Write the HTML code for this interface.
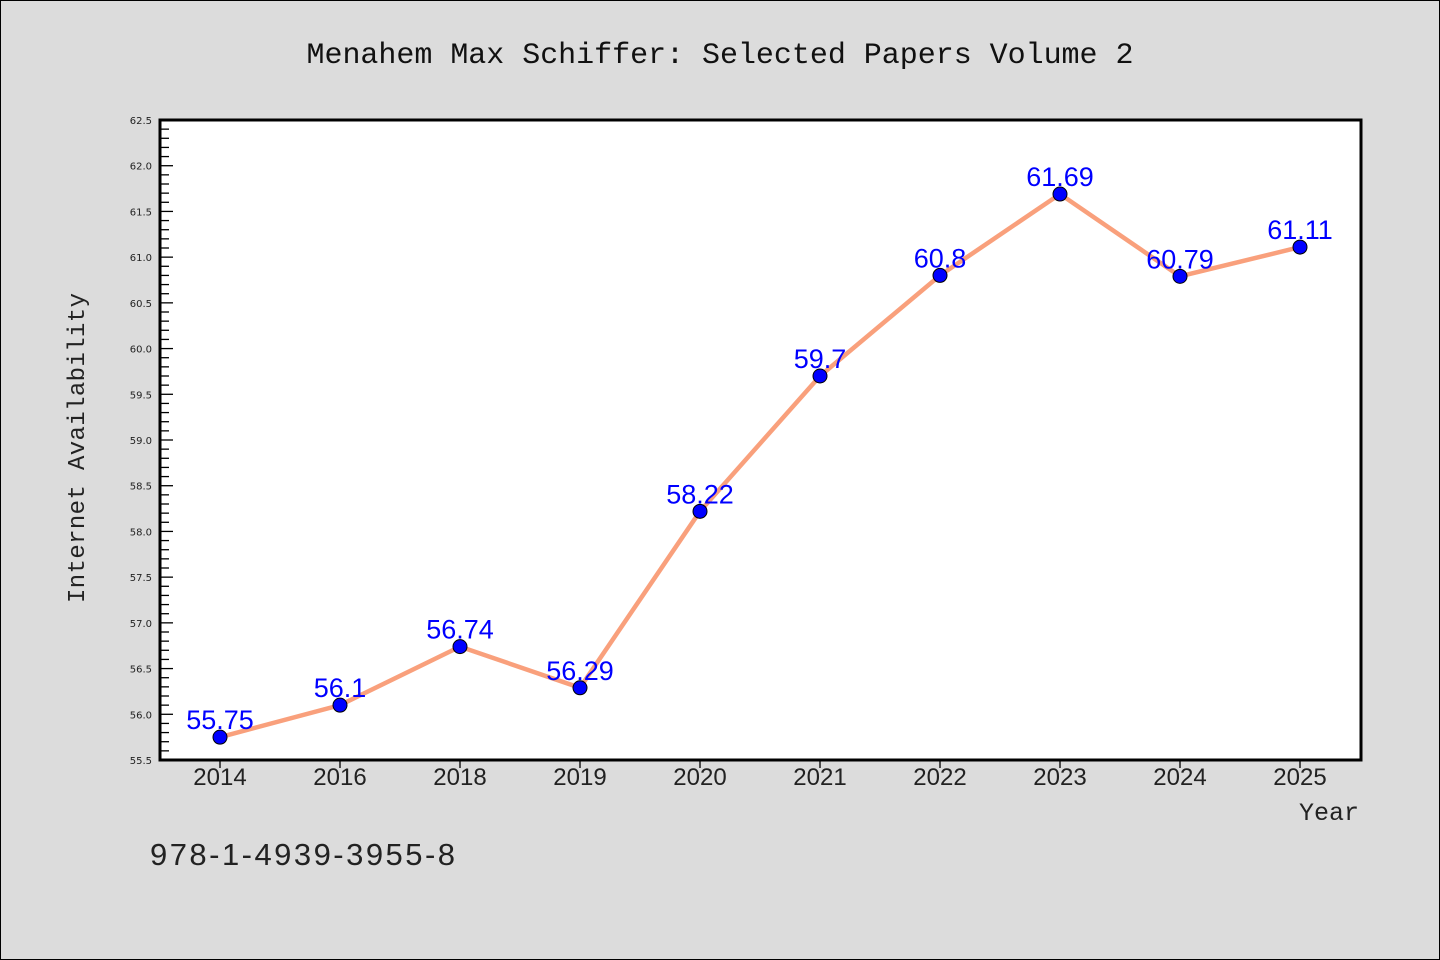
<!DOCTYPE html>
<html><head><meta charset="utf-8"><style>
body{margin:0;background:#dcdcdc;}
svg{display:block;}
</style></head><body>
<svg width="1440" height="960" xmlns="http://www.w3.org/2000/svg">
<rect x="0.5" y="0.5" width="1439" height="959" fill="#dcdcdc" stroke="#000"/>
<text x="720" y="63" text-anchor="middle" font-family="Liberation Mono, monospace" font-size="30" fill="#111" textLength="827">Menahem Max Schiffer: Selected Papers Volume 2</text>
<rect x="160" y="120" width="1201" height="640" fill="#fff"/>
<g id="yticks"></g><g id="xticks"></g><g id="series"></g>
<rect x="160" y="120" width="1201" height="640" fill="none" stroke="#000" stroke-width="3"/>
<text transform="translate(84,448) rotate(-90)" text-anchor="middle" font-family="Liberation Mono, monospace" font-size="24" fill="#222" textLength="310">Internet Availability</text>
<text x="1359" y="820" text-anchor="end" font-family="Liberation Mono, monospace" font-size="25" fill="#222">Year</text>
<text x="150" y="865" font-family="Liberation Sans, sans-serif" font-size="31" fill="#222" textLength="305">978-1-4939-3955-8</text>
</svg>
<script>
const categories=["2014","2016","2018","2019","2020","2021","2022","2023","2024","2025"];
const values=[55.75,56.1,56.74,56.29,58.22,59.7,60.8,61.69,60.79,61.11];
const valueLabels=["55.75","56.1","56.74","56.29","58.22","59.7","60.8","61.69","60.79","61.11"];
const yTickLabels=["55.5","56.0","56.5","57.0","57.5","58.0","58.5","59.0","59.5","60.0","60.5","61.0","61.5","62.0","62.5"];
const NS="http://www.w3.org/2000/svg";
const yMin=55.5,yMax=62.5,plotTop=120,plotBot=760,plotLeft=160;
function yS(v){return plotBot-(v-yMin)/(yMax-yMin)*(plotBot-plotTop);}
function xS(i){return 220+i*120;}
function mk(t,a,p){const e=document.createElementNS(NS,t);for(const k in a)e.setAttribute(k,a[k]);p.appendChild(e);return e;}
const yt=document.getElementById('yticks');
for(let k=0;k<=70;k++){const v=yMin+k*0.1;const major=k%5===0;
 const l=mk('line',{x1:plotLeft,x2:plotLeft+(major?13:9),y1:yS(v),y2:yS(v),stroke:'#000','stroke-width':1.3},yt);
 
 }
yTickLabels.forEach(s=>{const t=mk('text',{x:152,y:yS(parseFloat(s))+4,'text-anchor':'end','font-family':'DejaVu Sans, sans-serif','font-size':10,fill:'#222'},yt);t.textContent=s;
 
 });
const xt=document.getElementById('xticks');
categories.forEach((c,i)=>{const l=mk('line',{x1:xS(i),x2:xS(i),y1:plotBot,y2:plotBot+8,stroke:'#000','stroke-width':1.3},xt);
 
 
 const t=mk('text',{x:xS(i),y:785,'text-anchor':'middle','font-family':'Liberation Sans, sans-serif','font-size':24,fill:'#222'},xt);t.textContent=c;
 
 });
const sg=document.getElementById('series');
const pl=mk('polyline',{points:values.map((v,i)=>xS(i)+','+yS(v)).join(' '),fill:'none',stroke:'#f9a07c','stroke-width':4.5},sg);


values.forEach((v,i)=>{const c=mk('circle',{cx:xS(i),cy:yS(v),r:7,fill:'#0000ff',stroke:'#000','stroke-width':1},sg);
 
 
 const t=mk('text',{x:xS(i),y:yS(v)-8,'text-anchor':'middle','font-family':'Liberation Sans, sans-serif','font-size':27,fill:'#0000ff'},sg);t.textContent=valueLabels[i];
 
 });
</script>
</body></html>
